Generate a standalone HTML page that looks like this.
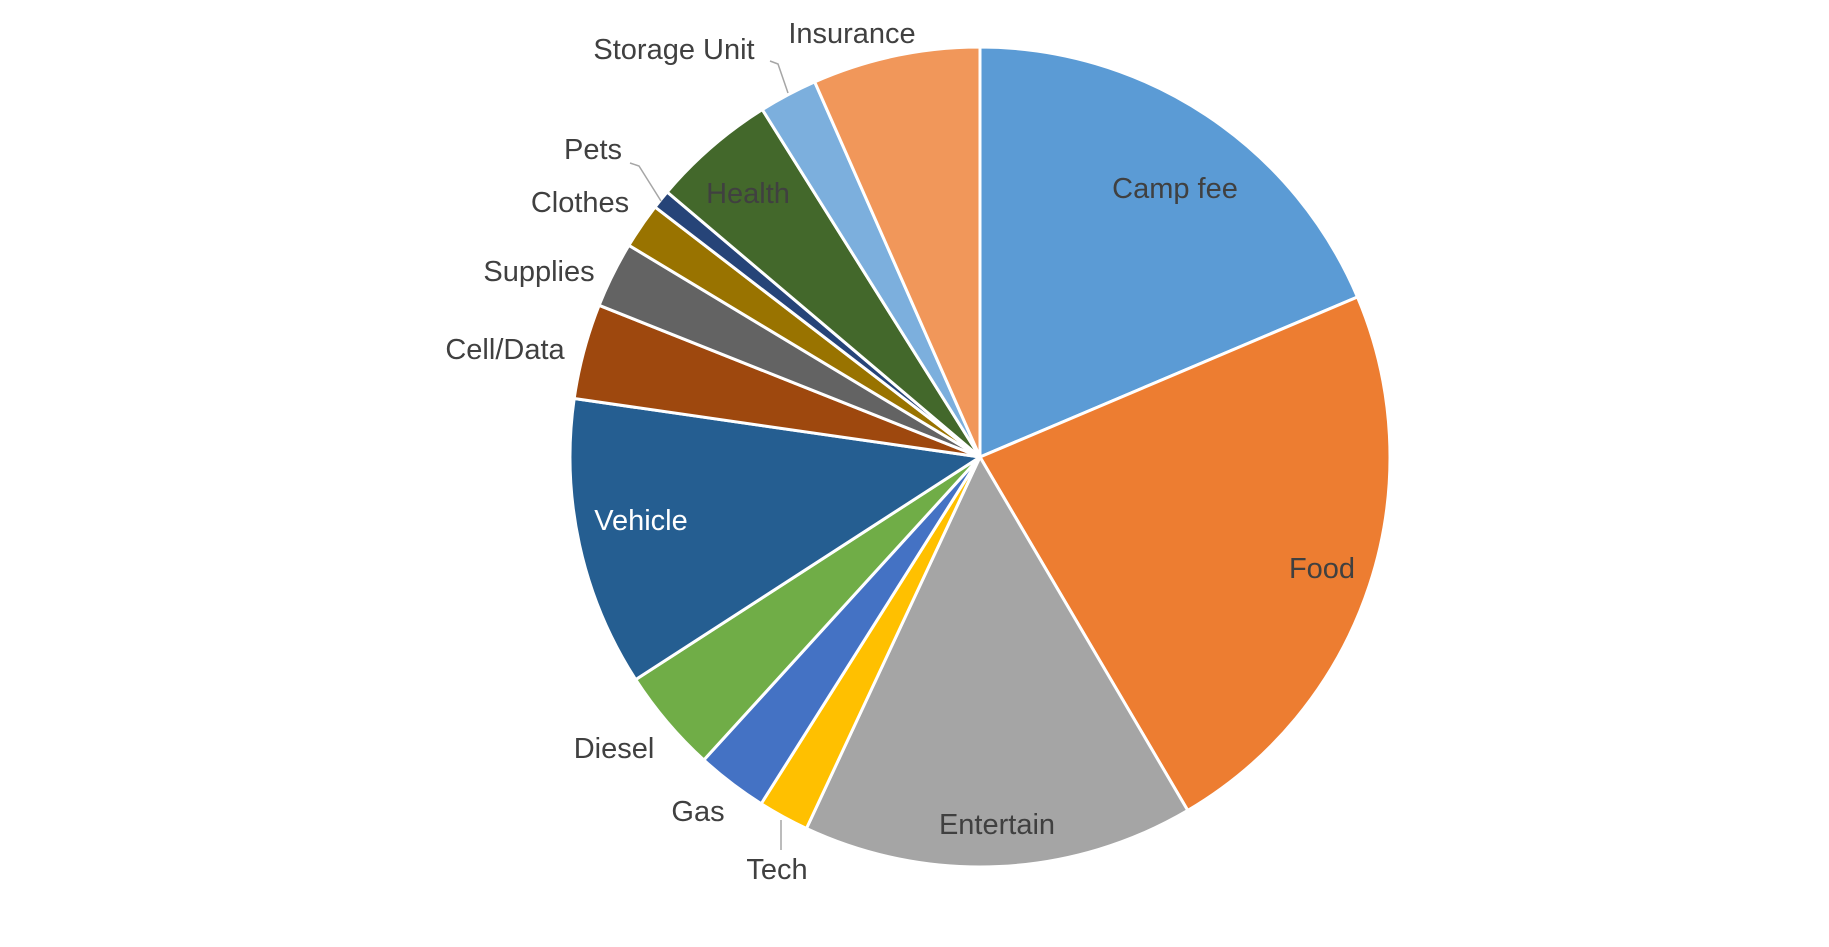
<!DOCTYPE html>
<html><head><meta charset="utf-8">
<style>
html,body{margin:0;padding:0;background:#fff;}
svg text{font-family:"Liberation Sans",sans-serif;font-size:29px;fill:#404040;}
</style></head>
<body>
<svg id="chart" width="1829" height="942" viewBox="0 0 1829 942" xmlns="http://www.w3.org/2000/svg"></svg>
<script>
const categories = ["Camp fee","Food","Entertain","Tech","Gas","Diesel","Vehicle","Cell/Data","Supplies","Clothes","Pets","Health","Storage Unit","Insurance"];
const values = [18.6,22.9,15.4,2.0,2.8,4.1,11.4,3.75,2.6,1.8,0.75,4.9,2.3,6.6];
const colors = ["#5b9bd5","#ed7d31","#a5a5a5","#ffc000","#4472c4","#70ad47","#255e91","#9e480e","#636363","#997300","#264478","#43682b","#7cafdd","#f1975a"];
const labelPos = [[1175,188],[1322,568],[997,824],[777,869],[698,811],[614,748],[641,520],[505,349],[539,271],[580,202],[593,149],[748,193],[674,49],[852,33]];
const labelFill = ["#404040","#404040","#404040","#404040","#404040","#404040","#ffffff","#404040","#404040","#404040","#404040","#404040","#404040","#404040"];
const NS="http://www.w3.org/2000/svg";
const svg=document.getElementById('chart');
const cx=980, cy=457, r=410;
const total=values.reduce((a,b)=>a+b,0);
function pt(a){return [cx+r*Math.sin(a), cy-r*Math.cos(a)];}
let acc=0;
values.forEach((v,i)=>{
  const a0=acc/total*2*Math.PI; acc+=v; const a1=acc/total*2*Math.PI;
  const p0=pt(a0), p1=pt(a1);
  const large=(a1-a0)>Math.PI?1:0;
  const p=document.createElementNS(NS,'path');
  p.setAttribute('d',`M${cx},${cy} L${p0[0]},${p0[1]} A${r},${r} 0 ${large} 1 ${p1[0]},${p1[1]} Z`);
  p.setAttribute('fill',colors[i]);
  p.setAttribute('stroke','#fff');
  p.setAttribute('stroke-width','3');
  
  
  svg.appendChild(p);
});
const leaders=[[[770,61],[778,64],[788,93]],[[630,163],[639,166],[661,201]],[[781,820],[781,850]]];
leaders.forEach(l=>{
  const pl=document.createElementNS(NS,'polyline');
  pl.setAttribute('points',l.map(q=>q.join(',')).join(' '));
  pl.setAttribute('fill','none');
  pl.setAttribute('stroke','#a6a6a6');
  pl.setAttribute('stroke-width','1.5');
  
  
  svg.appendChild(pl);
});
categories.forEach((c,i)=>{
  const t=document.createElementNS(NS,'text');
  t.setAttribute('x',labelPos[i][0]);
  t.setAttribute('y',labelPos[i][1]+10);
  t.setAttribute('text-anchor','middle');
  t.style.fill=labelFill[i];
  t.textContent=c;
  
  
  svg.appendChild(t);
});
</script>
</body></html>
